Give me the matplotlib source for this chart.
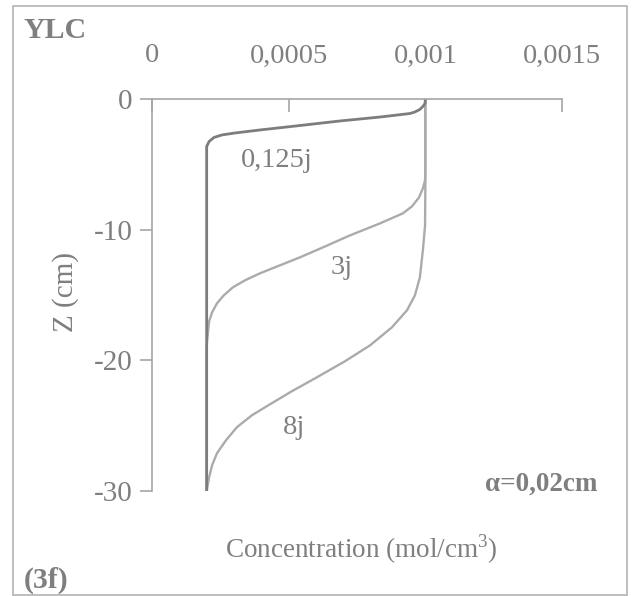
import matplotlib
matplotlib.use("Agg")
import matplotlib.pyplot as plt
from matplotlib.patches import Rectangle

plt.rcParams["font.family"] = ["Liberation Serif", "DejaVu Serif"]
plt.rcParams["mathtext.fontset"] = "custom"
plt.rcParams["mathtext.rm"] = "Liberation Serif"

# concentration (mol/cm3) vs depth Z (cm)
c_0125 = [0.001, 0.000999, 0.000991, 0.00098, 0.000962, 0.000944, 0.000834,
          0.000688, 0.000541, 0.000395, 0.000304, 0.000256, 0.000227, 0.000209,
          0.0002, 0.0002, 0.0002]
z_0125 = [0, -0.34, -0.57, -0.8, -0.99, -1.11, -1.38, -1.68, -2.03, -2.37,
          -2.6, -2.75, -2.94, -3.25, -3.63, -4.1, -30]

c_3j = [0.001, 0.001, 0.000999, 0.000991, 0.000977, 0.000951, 0.000918, 0.000834,
        0.000724, 0.000626, 0.000541, 0.000468, 0.000395, 0.00034, 0.000296,
        0.000263, 0.000238, 0.00022, 0.000209, 0.000205, 0.0002, 0.0002]
z_3j = [0, -5.47, -6.23, -6.84, -7.53, -8.22, -8.75, -9.52, -10.44, -11.35,
        -12.12, -12.73, -13.34, -13.88, -14.41, -15.02, -15.63, -16.32, -17.01,
        -17.85, -18.85, -30]

c_8j = [0.001, 0.001, 0.000999, 0.000991, 0.00098, 0.000962, 0.000933, 0.000878,
        0.000798, 0.000706, 0.000604, 0.000512, 0.000432, 0.000366, 0.000311,
        0.000271, 0.000238, 0.00022, 0.000209, 0.0002]
z_8j = [0, -7.0, -9.67, -11.58, -13.65, -15.02, -16.17, -17.47, -18.85, -20.07,
        -21.29, -22.36, -23.36, -24.2, -25.11, -26.11, -27.1, -28.02, -28.94, -30]

x_ticks = [0, 0.0005, 0.001, 0.0015]
x_labels = ["0", "0,0005", "0,001", "0,0015"]
y_ticks = [0, -10, -20, -30]

W, H = 638, 596
TXT = "#7f7f7f"
AX = "#a6a6a6"

fig = plt.figure(figsize=(W / 100, H / 100), dpi=100)
ax = fig.add_axes([152 / W, 1 - 491 / H, (562 - 152) / W, (491 - 99) / H])

ax.plot(c_8j, z_8j, color="#ababab", lw=1.7, solid_joinstyle="round")
ax.plot(c_3j, z_3j, color="#ababab", lw=1.7, solid_joinstyle="round")
ax.plot(c_0125, z_0125, color="#7d7d7d", lw=2.0, solid_joinstyle="round")

ax.set_xlim(0, 0.0015)
ax.set_ylim(-30, 0)
ax.xaxis.tick_top()
ax.set_xticks(x_ticks)
ax.set_xticklabels(x_labels)
ax.set_yticks(y_ticks)
ax.set_yticklabels([str(v) for v in y_ticks])
ax.tick_params(axis="x", direction="in", length=9, width=1.2, color=AX,
               labelcolor=TXT, labelsize=20.5, pad=22)
ax.tick_params(axis="y", direction="out", length=9, width=1.2, color=AX,
               labelcolor=TXT, labelsize=21, pad=5)
for s in ["right", "bottom"]:
    ax.spines[s].set_visible(False)
for s in ["top", "left"]:
    ax.spines[s].set_color(AX)
    ax.spines[s].set_linewidth(1.2)
ax.patch.set_alpha(0)

def put(x, y, s, **kw):
    fig.text(x / W, 1 - y / H, s, color=TXT, **kw)

put(277, 160, "0,125j", fontsize=20.5, ha="center", va="center")
put(342, 268, "3j", fontsize=20.5, ha="center", va="center")
put(294, 428, "8j", fontsize=20.5, ha="center", va="center")
put(541, 484, "α=0,02cm", fontsize=19.5, fontweight="bold", ha="center", va="center")
put(66, 292, "Z (cm)", fontsize=21, rotation=90, ha="center", va="center")
put(361, 549, "Concentration (mol/cm$^3$)", fontsize=19.5, ha="center", va="center")
put(23, 30, "YLC", fontsize=21.5, fontweight="bold", ha="left", va="center")
put(24, 580, "(3f)", fontsize=21.5, fontweight="bold", ha="left", va="center")

fig.patches.append(Rectangle((13 / W, 1 - 595 / H), (627 - 13) / W, (595 - 6) / H,
                             transform=fig.transFigure, fill=False,
                             edgecolor="#b3b3b3", lw=1.2))

fig.savefig("out.png", dpi=100)
